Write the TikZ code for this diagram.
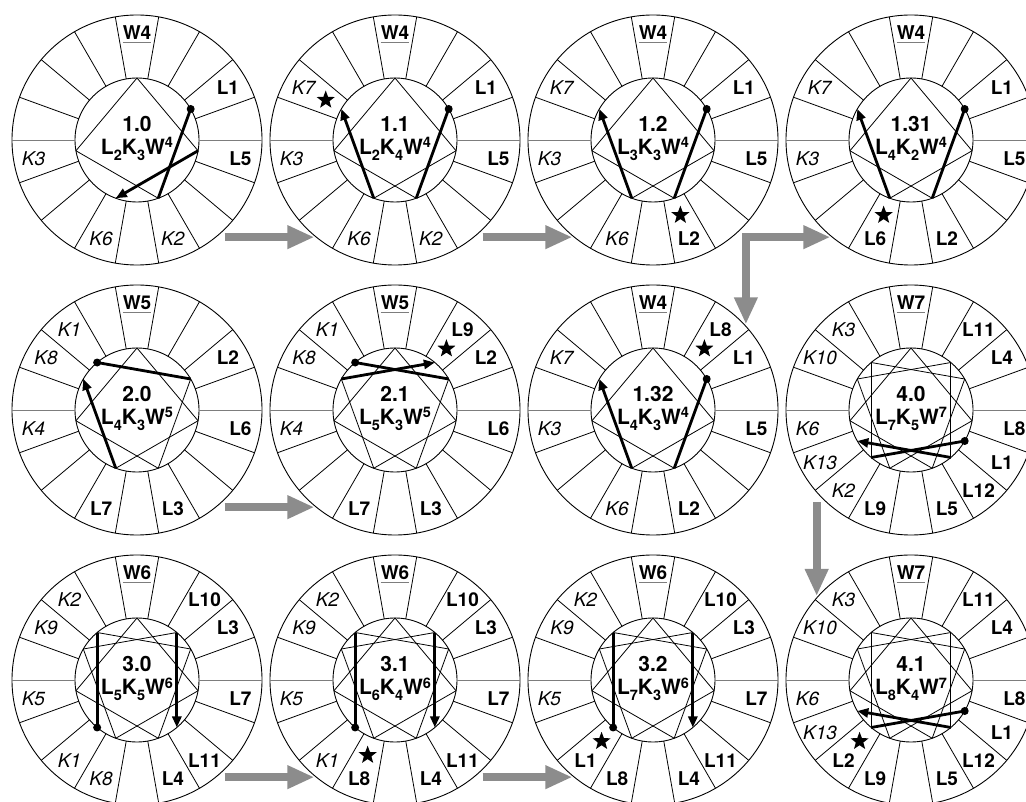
\documentclass[tikz,border=0pt]{standalone}
\usepackage{fontspec}
\setmainfont{TeX Gyre Heros}
\usetikzlibrary{arrows.meta,shapes.geometric}
\definecolor{arrgray}{RGB}{140,140,140}
\definecolor{seggray}{RGB}{125,125,125}
\newcommand\lsub[1]{\raisebox{-6pt}{\fontsize{14.5}{14.5}\selectfont #1}}
\newcommand\lsup[1]{\raisebox{6.5pt}{\fontsize{14.5}{14.5}\selectfont #1}}
\newcommand\posang[3]{\pgfmathtruncatemacro#1{mod(90-100*((#3)-(#2))+3600,360)}}
\tikzset{
  ring/.style={circle, draw, line width=0.9pt, outer sep=0pt, inner sep=0pt, minimum size=250pt},
  hub/.style={circle, draw, line width=0.9pt, outer sep=0pt, inner sep=0pt, minimum size=124pt},
  spoke/.style={line width=0.8pt},
  hspoke/.style={line width=0.8pt, draw=seggray},
  chord/.style={line width=0.8pt},
  thk/.style={line width=2.8pt},
  thka/.style={line width=2.8pt, -{Triangle[length=11pt,width=9pt]}},
  dotn/.style={circle, fill, inner sep=0pt, minimum size=8pt},
  lab/.style={inner sep=0pt, font=\fontsize{19}{22}\selectfont},
  wlab/.style={inner sep=0pt, font=\fontsize{19}{22}\selectfont\bfseries},
  tlab/.style={inner sep=0pt, font=\fontsize{21}{24}\selectfont\bfseries},
  uline/.style={line width=1.1pt, draw=seggray},
  bstar/.style={star, star points=5, star point ratio=2.4, minimum size=19pt, inner sep=0pt, fill=black},
  garr/.style={draw=arrgray, line width=8pt, -{Triangle[length=27pt,width=22pt]}, shorten >=2pt},
  garrc/.style={draw=arrgray, line width=8pt, line cap=rect, -{Triangle[length=27pt,width=22pt]}, shorten >=2pt}
}
\newcommand\wheel[6]{%
  \node[ring] (#1) at (#2,#3) {};
  \node[hub] (#1i) at (#2,#3) {};
  \foreach \a in {20,40,...,160} {\draw[spoke] (#1i.\a) -- (#1.\a);}
  \foreach \a in {200,220,...,340} {\draw[spoke] (#1i.\a) -- (#1.\a);}
  \draw[hspoke] (#1i.0) -- (#1.0);
  \draw[hspoke] (#1i.180) -- (#1.180);
  \pgfmathtruncatemacro\lastk{2*#4-3}
  \foreach \k in {2,...,\lastk} {
    \posang\angA{#4}{\k}
    \posang\angB{#4}{\k+1}
    \draw[chord] (#1i.\angA) -- (#1i.\angB);
  }
  \node[tlab, anchor=base] (#1t) at (#2,#3+8.5) {#5};
  \node[tlab, anchor=base] (#1f) at (#2,#3-14.5) {#6};
  \path (#1) ++(90:100) node[wlab, anchor=base] (#1w) {W#4};
  \draw[uline] ([yshift=-2.8pt]#1w.base west) -- ([yshift=-2.8pt]#1w.base east);
}
\newcommand\plab[4]{%
  \posang\angL{#2}{#3}%
  \path (#1) ++(\angL:105) node[lab] (#1p#3) {#4};
}
\newcommand\labset[3]{%
  \foreach \p/\q in {#3} {%
    \if\q L\plab{#1}{#2}{\p}{\textbf{L\p}}\else\plab{#1}{#2}{\p}{\textit{K\p}}\fi
  }%
}
\newcommand\pstar[3]{%
  \posang\angS{#2}{#3}%
  \path (#1) ++(\angS:80) node[bstar] (#1s#3) {};
}
\newcommand\thickpath[3]{%
  \posang\angA{#2}{1}\posang\angB{#2}{2}%
  \draw[thk] (#1i.\angA) -- (#1i.\angB);
  \node[dotn] (#1d) at (#1i.\angA) {};
  \posang\angA{#2}{#3}\posang\angB{#2}{#3+1}%
  \draw[thka] (#1i.\angA) -- (#1i.\angB);
}
\begin{document}
\begin{tikzpicture}[x=1pt,y=1pt]
\useasboundingbox (0,0) rectangle (1026,801);
\fill[white] (0,0) rectangle (1026,801);
\clip (0,0) rectangle (1026,801);
% row 1
\wheel{c10}{137}{661}{4}{1.0}{L\lsub{2}K\lsub{3}W\lsup{4}}
\labset{c10}{4}{1/L,2/K,3/K,5/L,6/K}
\thickpath{c10}{4}{5}
\wheel{c11}{395}{661}{4}{1.1}{L\lsub{2}K\lsub{4}W\lsup{4}}
\labset{c11}{4}{1/L,2/K,3/K,5/L,6/K,7/K}
\pstar{c11}{4}{7}
\thickpath{c11}{4}{6}
\wheel{c12}{653}{661}{4}{1.2}{L\lsub{3}K\lsub{3}W\lsup{4}}
\labset{c12}{4}{1/L,2/L,3/K,5/L,6/K,7/K}
\pstar{c12}{4}{2}
\thickpath{c12}{4}{6}
\wheel{c131}{911}{661}{4}{1.31}{L\lsub{4}K\lsub{2}W\lsup{4}}
\labset{c131}{4}{1/L,2/L,3/K,5/L,6/L,7/K}
\pstar{c131}{4}{6}
\thickpath{c131}{4}{6}
% row 2
\wheel{c20}{137}{391}{5}{2.0}{L\lsub{4}K\lsub{3}W\lsup{5}}
\labset{c20}{5}{1/K,2/L,3/L,4/K,6/L,7/L,8/K}
\thickpath{c20}{5}{7}
\wheel{c21}{395}{391}{5}{2.1}{L\lsub{5}K\lsub{3}W\lsup{5}}
\labset{c21}{5}{1/K,2/L,3/L,4/K,6/L,7/L,8/K,9/L}
\pstar{c21}{5}{9}
\thickpath{c21}{5}{8}
\wheel{c132}{653}{391}{4}{1.32}{L\lsub{4}K\lsub{3}W\lsup{4}}
\labset{c132}{4}{1/L,2/L,3/K,5/L,6/K,7/K,8/L}
\pstar{c132}{4}{8}
\thickpath{c132}{4}{6}
\wheel{c40}{911}{391}{7}{4.0}{L\lsub{7}K\lsub{5}W\lsup{7}}
\labset{c40}{7}{1/L,2/K,3/K,4/L,5/L,6/K,8/L,9/L,10/K,11/L,12/L,13/K}
\thickpath{c40}{7}{12}
% row 3
\wheel{c30}{137}{121}{6}{3.0}{L\lsub{5}K\lsub{5}W\lsup{6}}
\labset{c30}{6}{1/K,2/K,3/L,4/L,5/K,7/L,8/K,9/K,10/L,11/L}
\thickpath{c30}{6}{10}
\wheel{c31}{395}{121}{6}{3.1}{L\lsub{6}K\lsub{4}W\lsup{6}}
\labset{c31}{6}{1/K,2/K,3/L,4/L,5/K,7/L,8/L,9/K,10/L,11/L}
\pstar{c31}{6}{8}
\thickpath{c31}{6}{10}
\wheel{c32}{653}{121}{6}{3.2}{L\lsub{7}K\lsub{3}W\lsup{6}}
\labset{c32}{6}{1/L,2/K,3/L,4/L,5/K,7/L,8/L,9/K,10/L,11/L}
\pstar{c32}{6}{1}
\thickpath{c32}{6}{10}
\wheel{c41}{911}{121}{7}{4.1}{L\lsub{8}K\lsub{4}W\lsup{7}}
\labset{c41}{7}{1/L,2/L,3/K,4/L,5/L,6/K,8/L,9/L,10/K,11/L,12/L,13/K}
\pstar{c41}{7}{2}
\thickpath{c41}{7}{12}
% gray arrows
\draw[garr] ([xshift=9pt]c10.-51) -- (c11.-129);
\draw[garr] ([xshift=9pt]c11.-51) -- (c12.-129);
\coordinate (split) at (c132.42 |- c131.-129);
\draw[garrc] (split) -- (c131.-129);
\draw[garrc] (split) -- (c132.42);
\draw[garr] ([xshift=9pt]c20.-51) -- (c21.-129);
\draw[garr] ([yshift=-10pt]c40.-139) -- (c41.139);
\draw[garr] ([xshift=9pt]c30.-51) -- (c31.-129);
\draw[garr] ([xshift=9pt]c31.-51) -- (c32.-129);
\end{tikzpicture}
\end{document}
